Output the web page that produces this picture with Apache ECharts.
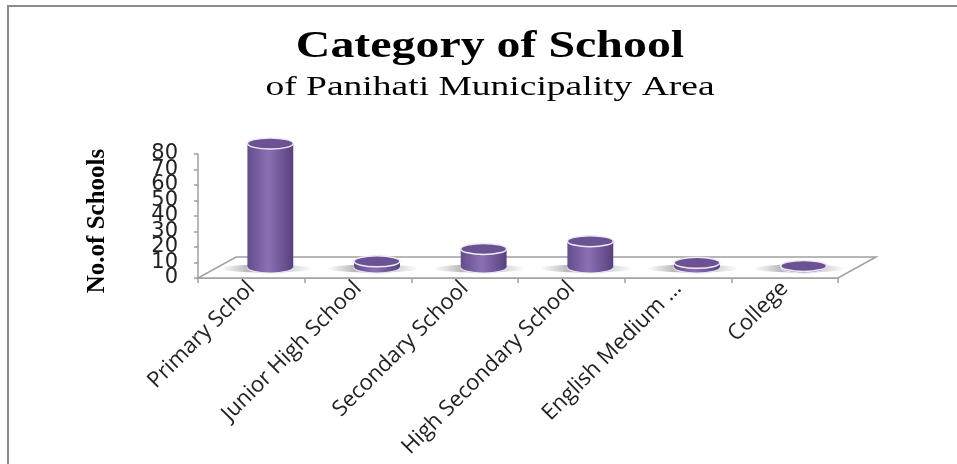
<!DOCTYPE html>
<html><head><meta charset="utf-8">
<script src="https://cdn.jsdelivr.net/npm/echarts@6/dist/echarts.min.js"></script>
<style>html,body{margin:0;padding:0;background:#fff}#c{width:957px;height:464px}</style>
</head><body><div id="c"></div>
<script>
const categories = ['Primary Schol', 'Junior High School', 'Secondary School', 'High Secondary School', 'English Medium ...', 'College'];
const schoolCounts = [80, 4, 12, 17, 3, 1];
const yMin = 0, yMax = 80, yInterval = 10;
const titleText = 'Category of School';
const subtitleText = 'of Panihati Municipality Area';
const yAxisName = 'No.of Schools';

const DEPTH_X = 38, DEPTH_Y = -21;
const GRID_TOP = 154, GRID_BOTTOM = 186, GRID_LEFT = 198, GRID_RIGHT = 119;
const plotH = 464 - GRID_TOP - GRID_BOTTOM;
const step = plotH * yInterval / (yMax - yMin);
const chart = echarts.init(document.getElementById('c'), null, {renderer: 'canvas'});

function renderFloor(params, api) {
  const bw = api.size([1, 0])[0];
  const p0 = api.coord([0, 0]);
  const p1 = api.coord([categories.length - 1, 0]);
  const x0 = p0[0] - bw / 2, x1 = p1[0] + bw / 2, y = p0[1];
  return {
    type: 'polygon', silent: true,
    shape: {points: [[x0, y], [x1, y], [x1 + DEPTH_X, y + DEPTH_Y], [x0 + DEPTH_X, y + DEPTH_Y]]},
    style: {fill: '#ffffff', stroke: '#a0a0a0', lineWidth: 1.5}
  };
}

function renderCylinder(params, api) {
  const idx = api.value(0), val = api.value(1);
  const b = api.coord([idx, 0]), t = api.coord([idx, val]);
  const bw = api.size([1, 0])[0];
  const rx = bw * 0.215, ry = 5.5;
  const cx = b[0] + DEPTH_X / 2, yb = b[1] + DEPTH_Y / 2, yt = t[1] + DEPTH_Y / 2;
  const grad = new echarts.graphic.LinearGradient(0, 0, 1, 0, [
    {offset: 0, color: '#644c8c'}, {offset: 0.45, color: '#8c70b4'}, {offset: 1, color: '#574180'}
  ]);
  const shadow = new echarts.graphic.LinearGradient(0, 0, 1, 0, [
    {offset: 0, color: 'rgba(80,80,80,0)'}, {offset: 0.3, color: 'rgba(80,80,80,0.4)'},
    {offset: 0.7, color: 'rgba(80,80,80,0.3)'}, {offset: 1, color: 'rgba(80,80,80,0)'}
  ]);
  return {
    type: 'group',
    children: [
      {type: 'ellipse', shape: {cx: cx - 4, cy: yb + 1, rx: rx * 2, ry: 4}, style: {fill: shadow}},
      {type: 'ellipse', shape: {cx: cx, cy: yb, rx: rx, ry: ry}, style: {fill: grad, stroke: '#e9e3f1', lineWidth: 1.2}},
      {type: 'rect', shape: {x: cx - rx, y: yt, width: 2 * rx, height: Math.max(0, yb - yt)}, style: {fill: grad}},
      {type: 'ellipse', shape: {cx: cx, cy: yt, rx: rx, ry: ry}, style: {fill: '#6b5293', stroke: '#efeaf6', lineWidth: 1.5}}
    ]
  };
}

const yLabelStyle = {margin: 20, fontSize: 21, fontFamily: 'DejaVu Sans', color: '#222'};

chart.setOption({
  animation: false,
  backgroundColor: '#ffffff',
  graphic: [
    {type: 'polyline', silent: true, shape: {points: [[8, 464], [8, 6], [957, 6]]}, style: {stroke: '#8a8a8a', lineWidth: 2, fill: null}},
    {type: 'text', x: 490, y: 47, scaleX: 1.26, silent: true,
     style: {text: titleText, fill: '#000', font: 'bold 38px "Liberation Serif"', align: 'center', verticalAlign: 'middle'}},
    {type: 'text', x: 490, y: 88, scaleX: 1.34, silent: true,
     style: {text: subtitleText, fill: '#000', font: '28px "Liberation Serif"', align: 'center', verticalAlign: 'middle'}}
  ],
  grid: [
    {left: GRID_LEFT, right: GRID_RIGHT, top: GRID_TOP, bottom: GRID_BOTTOM},
    {left: GRID_LEFT, right: GRID_RIGHT, top: GRID_TOP - step, bottom: GRID_BOTTOM - step}
  ],
  xAxis: [{
    type: 'category', data: categories, boundaryGap: true, gridIndex: 0,
    axisLine: {lineStyle: {color: '#a0a0a0', width: 1.5}},
    axisTick: {show: true, length: 5, interval: 0, lineStyle: {color: '#a0a0a0', width: 1.5}},
    axisLabel: {interval: 0, rotate: 45, margin: 7, fontSize: 22, fontFamily: 'Open Sans', color: '#222'}
  }, {
    type: 'category', data: categories, gridIndex: 1, show: false
  }],
  yAxis: [{
    type: 'value', gridIndex: 0, min: yMin, max: yMax, interval: yInterval * 2,
    name: yAxisName, nameLocation: 'middle', nameRotate: 90, nameGap: 88,
    nameTextStyle: {fontFamily: 'Liberation Serif', fontWeight: 'bold', fontSize: 25, color: '#000', padding: [0, 10, 0, 0]},
    axisLine: {show: true, lineStyle: {color: '#a0a0a0', width: 1.5}},
    axisTick: {show: true, length: 4, lineStyle: {color: '#a0a0a0', width: 1.5}},
    minorTick: {show: true, splitNumber: 2, length: 4, lineStyle: {color: '#a0a0a0', width: 1.5}},
    splitLine: {show: false}, minorSplitLine: {show: false},
    axisLabel: yLabelStyle
  }, {
    type: 'value', gridIndex: 1, min: yMin - yInterval, max: yMax + yInterval, interval: yInterval * 2,
    axisLine: {show: false}, axisTick: {show: false}, splitLine: {show: false},
    axisLabel: Object.assign({showMinLabel: false, showMaxLabel: false}, yLabelStyle)
  }],
  series: [
    {type: 'custom', renderItem: renderFloor, data: [[0, 0]], silent: true, z: 1},
    {type: 'custom', renderItem: renderCylinder, data: schoolCounts.map((v, i) => [i, v]), z: 2}
  ]
});
</script>
</body></html>
